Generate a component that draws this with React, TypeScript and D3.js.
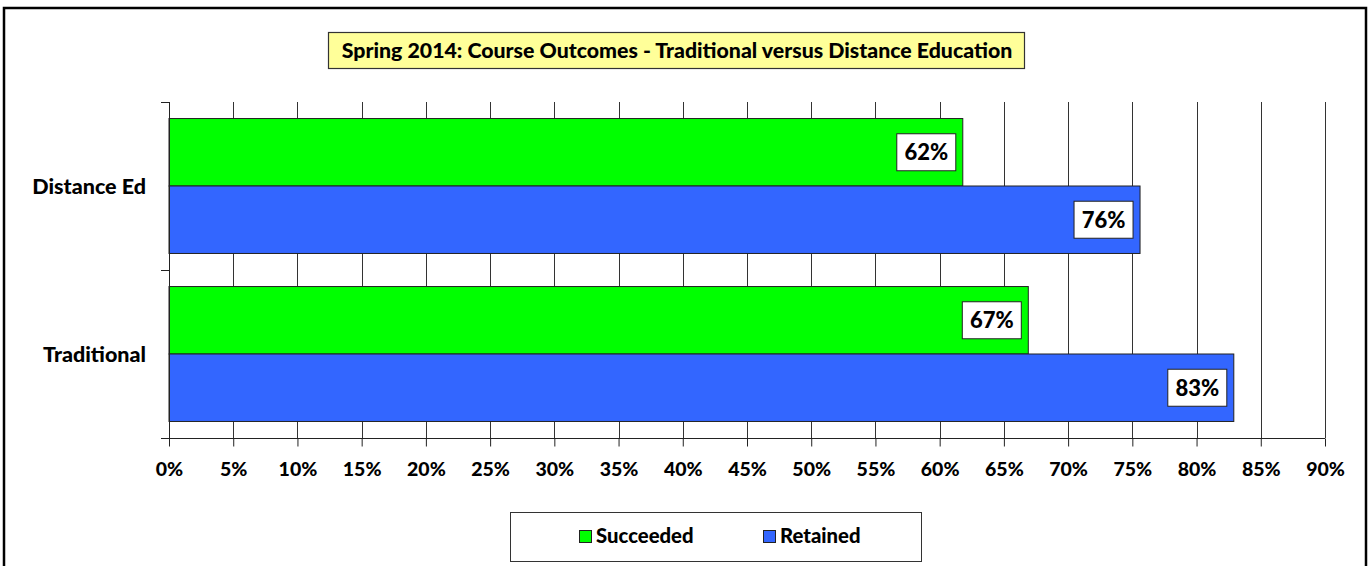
import React, { useEffect, useRef } from "react";
import * as d3 from "d3";

// chart data
const categories = ["Distance Ed", "Traditional"];
const seriesNames = ["Succeeded", "Retained"];
const succeeded = [0.618, 0.669];
const retained = [0.756, 0.829];
const tickValues = d3.range(0, 0.901, 0.05);
const title = "Spring 2014: Course Outcomes - Traditional versus Distance Education";

const colors = { Succeeded: "#00ff00", Retained: "#3366ff" };
const FONT = "Lato, 'Open Sans', sans-serif";

export default function App() {
  const svgRef = useRef(null);

  useEffect(() => {
    const width = 1370;
    const height = 566;
    const svg = d3.select(svgRef.current);
    svg.selectAll("*").remove();
    svg.attr("width", width).attr("height", height);

    const marginLeft = 169;
    const marginRight = 45;
    const plotTop = 102;
    const plotBottom = 438;

    const x = d3.scaleLinear().domain([0, 0.9]).range([marginLeft, width - marginRight]);
    const y = d3.scaleBand().domain(categories).range([plotTop, plotBottom]).padding(0);
    const ySub = d3
      .scaleBand()
      .domain(seriesNames)
      .range([0, y.bandwidth()])
      .paddingInner(0)
      .paddingOuter(0.245);

    // outer frame
    svg
      .append("rect")
      .attr("x", 4)
      .attr("y", 8)
      .attr("width", 1362)
      .attr("height", 600)
      .attr("fill", "white")
      .attr("stroke", "black")
      .attr("stroke-width", 2.5);

    // gridlines
    svg
      .append("g")
      .selectAll("line")
      .data(tickValues.slice(1))
      .join("line")
      .attr("x1", (d) => Math.round(x(d)) + 0.5)
      .attr("x2", (d) => Math.round(x(d)) + 0.5)
      .attr("y1", plotTop)
      .attr("y2", plotBottom)
      .attr("stroke", "#333")
      .attr("stroke-width", 1);

    // bars
    const rows = categories.map((c, i) => ({
      category: c,
      values: [
        { key: "Succeeded", value: succeeded[i] },
        { key: "Retained", value: retained[i] },
      ],
    }));

    const group = svg
      .append("g")
      .selectAll("g")
      .data(rows)
      .join("g")
      .attr("transform", (d) => `translate(0,${y(d.category)})`);

    group
      .selectAll("rect")
      .data((d) => d.values)
      .join("rect")
      .attr("x", x(0))
      .attr("y", (d) => ySub(d.key))
      .attr("width", (d) => x(d.value) - x(0))
      .attr("height", ySub.bandwidth())
      .attr("fill", (d) => colors[d.key])
      .attr("stroke", "#222")
      .attr("stroke-width", 1);

    // data labels
    const lbl = group
      .selectAll("g.lbl")
      .data((d) => d.values)
      .join("g")
      .attr("class", "lbl")
      .attr(
        "transform",
        (d) => `translate(${x(d.value) - 7},${ySub(d.key) + ySub.bandwidth() / 2})`
      );
    lbl
      .append("rect")
      .attr("x", -59)
      .attr("y", -18.5)
      .attr("width", 59)
      .attr("height", 37)
      .attr("fill", "white")
      .attr("stroke", "#222")
      .attr("stroke-width", 1);
    lbl
      .append("text")
      .attr("x", -29.5)
      .attr("y", 8)
      .attr("text-anchor", "middle")
      .attr("font-family", FONT)
      .attr("font-weight", 900)
      .attr("font-size", 22)
      .attr("fill", "black")
      .text((d) => `${Math.round(d.value * 100)}%`);

    // left axis
    const yAxisG = svg.append("g");
    yAxisG
      .append("line")
      .attr("x1", x(0) + 0.5)
      .attr("x2", x(0) + 0.5)
      .attr("y1", plotTop)
      .attr("y2", plotBottom)
      .attr("stroke", "#222");
    yAxisG
      .selectAll("line.tick")
      .data([plotTop, ...categories.map((c) => y(c) + y.bandwidth())])
      .join("line")
      .attr("class", "tick")
      .attr("x1", x(0) - 8)
      .attr("x2", x(0))
      .attr("y1", (d) => Math.round(d) + 0.5)
      .attr("y2", (d) => Math.round(d) + 0.5)
      .attr("stroke", "#222");
    yAxisG
      .selectAll("text")
      .data(categories)
      .join("text")
      .attr("x", 146)
      .attr("y", (d) => y(d) + y.bandwidth() / 2 + 8)
      .attr("text-anchor", "end")
      .attr("font-family", FONT)
      .attr("font-weight", 900)
      .attr("font-size", 21.5)
      .text((d) => d);

    // bottom axis
    const xAxis = d3
      .axisBottom(x)
      .tickValues(tickValues)
      .tickSize(8)
      .tickSizeOuter(0)
      .tickFormat(d3.format(".0%"));
    svg
      .append("g")
      .attr("transform", `translate(0,${plotBottom + 0.5})`)
      .call(xAxis)
      .call((g) => g.select(".domain").attr("stroke", "#222").attr("d", `M${x(0) - 8},0H${x(0.9)}`))
      .call((g) => g.selectAll(".tick line").attr("stroke", "#222"))
      .call((g) =>
        g
          .selectAll(".tick text")
          .attr("font-family", FONT)
          .attr("font-weight", 900)
          .attr("font-size", 19.5)
          .attr("fill", "black")
          .attr("dy", null)
          .attr("y", 37)
      );

    // title box
    svg
      .append("rect")
      .attr("x", 328.5)
      .attr("y", 32.5)
      .attr("width", 696)
      .attr("height", 36)
      .attr("fill", "#ffff99")
      .attr("stroke", "#333")
      .attr("stroke-width", 1.2);
    svg
      .append("text")
      .attr("x", 677)
      .attr("y", 58)
      .attr("text-anchor", "middle")
      .attr("font-family", FONT)
      .attr("font-weight", 900)
      .attr("font-size", 21.3)
      .text(title);

    // legend
    const legend = svg.append("g");
    legend
      .append("rect")
      .attr("x", 510.5)
      .attr("y", 512.5)
      .attr("width", 411)
      .attr("height", 49)
      .attr("fill", "white")
      .attr("stroke", "#333")
      .attr("stroke-width", 1);
    const legendX = [579, 763];
    const item = legend
      .selectAll("g")
      .data(seriesNames)
      .join("g")
      .attr("transform", (d, i) => `translate(${legendX[i]},530)`);
    item
      .append("rect")
      .attr("x", 0.5)
      .attr("y", 0.5)
      .attr("width", 12)
      .attr("height", 12)
      .attr("fill", (d) => colors[d])
      .attr("stroke", "#222");
    item
      .append("text")
      .attr("x", 17)
      .attr("y", 13)
      .attr("font-family", FONT)
      .attr("font-weight", 900)
      .attr("font-size", 20.3)
      .text((d) => d);
  }, []);

  return (
    <svg
      ref={svgRef}
      style={{ position: "absolute", left: 0, top: 0, display: "block" }}
    />
  );
}
